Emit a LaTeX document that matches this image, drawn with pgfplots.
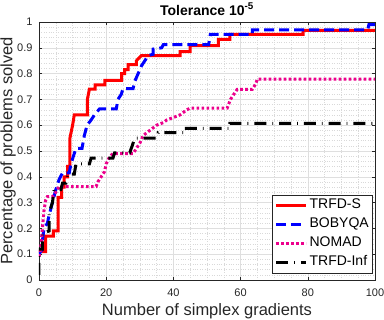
\documentclass[border=0pt]{standalone}
\usepackage{fontspec}
\setmainfont{Liberation Sans}
\setsansfont{Liberation Sans}
\usepackage{pgfplots}
\pgfplotsset{compat=1.18}
\definecolor{axgray}{gray}{0.15}
\begin{document}
\begin{tikzpicture}
\begin{axis}[
  at={(0pt,0pt)}, anchor=south west,
  scale only axis, width=336pt, height=258pt,
  xmin=0, xmax=100, ymin=0, ymax=1,
  xtick={0,20,40,60,80,100},
  ytick={0,0.1,0.2,0.3,0.4,0.5,0.6,0.7,0.8,0.9,1},
  yticklabels={0,0.1,0.2,0.3,0.4,0.5,0.6,0.7,0.8,0.9,1},
  minor x tick num=3, minor y tick num=4,
  grid=both,
  major grid style={gray!25, line width=0.4pt},
  minor grid style={gray!30, dotted, line width=0.4pt},
  tick align=inside,
  major tick length=3pt, minor tick length=0pt,
  axis line style={axgray, line width=0.5pt},
  tick style={axgray},
  ticklabel style={font=\fontsize{11}{13}\selectfont, text=axgray},
  xticklabel style={anchor=north, yshift=-5pt},
  yticklabel style={anchor=east, xshift=-3pt},
  /pgf/number format/assume math mode=true,
  title={\textbf{Tolerance 10\textsuperscript{-5}}},
  title style={font=\fontsize{14}{16}\selectfont, at={(rel axis cs:0.5,1.0271)}, anchor=base, yshift=-6pt},
  xlabel={Number of simplex gradients},
  ylabel={Percentage of problems solved},
  label style={font=\fontsize{16.5}{18}\selectfont, text=axgray},
  xlabel style={at={(rel axis cs:0.5,-0.1395)}, anchor=base},
  ylabel style={at={(rel axis cs:-0.0923,0.5)}, anchor=center},
  legend style={at={(rel axis cs:0.994,0.027)}, anchor=south east,
    font=\fontsize{14}{16}\selectfont, draw=axgray, line width=0.5pt,
    inner xsep=2pt, inner ysep=1pt, row sep=0pt, cells={anchor=west},
    nodes={inner sep=2pt, text height=11pt, text depth=4pt}},
  legend image code/.code={\draw[#1] (0pt,0pt) -- (30pt,0pt);},
  line join=miter,
]
\addplot[red, line width=3pt] coordinates {
(0,0.11)(2,0.11)(2,0.17)(4.3,0.17)(4.3,0.19)(5.7,0.19)(5.7,0.32)(6.7,0.32)(6.7,0.36)(7.5,0.36)(7.5,0.4)(8.5,0.4)(8.5,0.44)(9.2,0.44)(9.2,0.55)(10,0.6)(10.5,0.64)(14.4,0.64)(14.4,0.7)(15,0.74)(16.7,0.74)(16.7,0.756)(19.6,0.756)(19.6,0.774)(24.6,0.774)(24.6,0.8)(25.5,0.8)(25.5,0.815)(26.5,0.815)(26.5,0.835)(29,0.835)(29,0.85)(30.5,0.87)(42,0.87)(42,0.885)(45,0.885)(45,0.908)(53.4,0.908)(53.4,0.933)(56.8,0.933)(56.8,0.952)(78.6,0.952)(78.6,0.968)(100,0.968)
};
\addlegendentry{TRFD-S}
\addplot[blue, line width=3pt, dash pattern=on 10pt off 5pt] coordinates {
(0,0.1)(1,0.12)(1,0.15)(1.5,0.2)(2.5,0.22)(3,0.25)(4,0.3)(5,0.35)(6,0.39)(7,0.415)(9,0.415)(9.5,0.45)(10.5,0.49)(11,0.51)(12.8,0.51)(13.5,0.56)(14.3,0.6)(15.5,0.62)(16.5,0.64)(18,0.663)(23,0.663)(23.5,0.7)(24.5,0.72)(25,0.742)(28,0.742)(28.5,0.77)(29.5,0.8)(30.5,0.83)(31.5,0.85)(32.5,0.87)(34,0.875)(34,0.895)(36.5,0.9)(37,0.912)(50.5,0.912)(51,0.952)(63.5,0.952)(63.5,0.969)(97.8,0.969)(98.2,0.99)(100,0.99)
};
\addlegendentry{BOBYQA}
\addplot[magenta, line width=3pt, dash pattern=on 2.7pt off 2.3pt] coordinates {
(0,0.09)(0.5,0.12)(1,0.2)(1.5,0.27)(2,0.31)(2.5,0.323)(4,0.323)(5,0.34)(6,0.362)(17,0.362)(17.5,0.38)(18.5,0.4)(19.5,0.42)(20,0.45)(21,0.478)(22,0.49)(28,0.49)(29,0.51)(30,0.53)(31,0.56)(33,0.58)(35,0.6)(37,0.61)(38,0.62)(40,0.63)(42,0.64)(44,0.66)(45,0.666)(56,0.666)(57,0.7)(58,0.72)(59,0.739)(63.5,0.739)(64.5,0.76)(65,0.779)(100,0.779)
};
\addlegendentry{NOMAD}
\addplot[black, line width=3pt, dash pattern=on 12pt off 6pt on 0.8pt off 6pt] coordinates {
(0,0.02)(0,0.12)(1,0.12)(1,0.18)(3,0.19)(3,0.26)(4,0.3)(4.5,0.35)(6.5,0.35)(7,0.375)(8,0.375)(8.5,0.41)(10.5,0.41)(11,0.45)(15,0.45)(15.5,0.472)(22,0.472)(22.5,0.493)(27,0.493)(28,0.53)(28.5,0.55)(35,0.55)(35.5,0.571)(43,0.571)(43,0.588)(56.8,0.588)(56.8,0.607)(100,0.607)
};
\addlegendentry{TRFD-Inf}
\end{axis}
\pgfresetboundingbox
\path[use as bounding box] (-39pt,-40pt) rectangle (345pt,280pt);
\end{tikzpicture}
\end{document}
